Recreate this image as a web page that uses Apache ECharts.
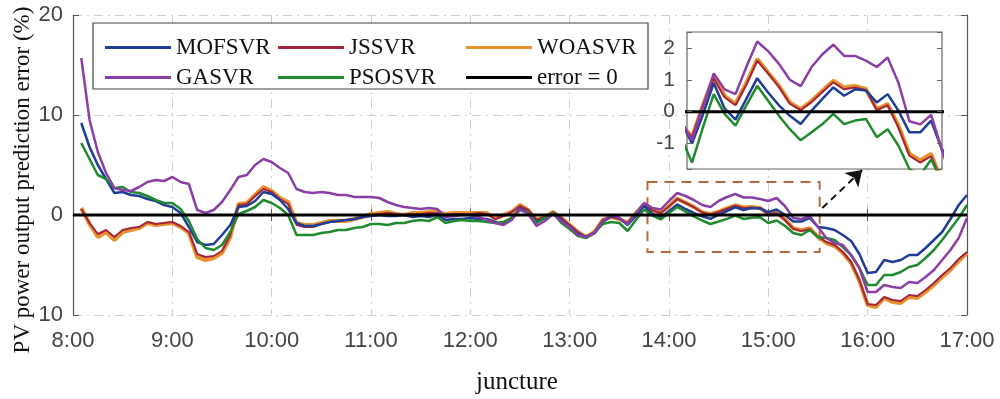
<!DOCTYPE html>
<html>
<head>
<meta charset="utf-8">
<script src="https://cdn.jsdelivr.net/npm/echarts@6/dist/echarts.min.js"></script>
<style>
html, body { margin: 0; padding: 0; background: #fff; }
#chart { width: 1000px; height: 399px; }
</style>
</head>
<body>
<div id="chart"></div>
<script>
// sample times (5 min steps)
const times = [
  "8:05","8:10","8:15","8:20","8:25","8:30","8:35","8:40","8:45","8:50","8:55","9:00",
  "9:05","9:10","9:15","9:20","9:25","9:30","9:35","9:40","9:45","9:50","9:55","10:00",
  "10:05","10:10","10:15","10:20","10:25","10:30","10:35","10:40","10:45","10:50","10:55","11:00",
  "11:05","11:10","11:15","11:20","11:25","11:30","11:35","11:40","11:45","11:50","11:55","12:00",
  "12:05","12:10","12:15","12:20","12:25","12:30","12:35","12:40","12:45","12:50","12:55","13:00",
  "13:05","13:10","13:15","13:20","13:25","13:30","13:35","13:40","13:45","13:50","13:55","14:00",
  "14:05","14:10","14:15","14:20","14:25","14:30","14:35","14:40","14:45","14:50","14:55","15:00",
  "15:05","15:10","15:15","15:20","15:25","15:30","15:35","15:40","15:45","15:50","15:55","16:00",
  "16:05","16:10","16:15","16:20","16:25","16:30","16:35","16:40","16:45","16:50","16:55","17:00"
];
const hourLabels = ["8:00","9:00","10:00","11:00","12:00","13:00","14:00","15:00","16:00","17:00"];
const yLabels = ["10", "0", "10", "20"]; // for -10, 0, 10, 20

const mofsvr = [
  9.2, 6.8, 5.0, 3.6, 2.2, 2.3, 2.0, 1.9, 1.6, 1.4, 1.0, 0.8,
  0.2, -1.2, -2.7, -3.0, -2.9, -2.0, -1.0, 0.8, 0.9, 1.4, 2.3, 2.1,
  1.5, 0.6, -0.8, -1.1, -1.1, -0.9, -0.7, -0.6, -0.5, -0.4, -0.2, -0.1,
  0.0, -0.1, -0.1, 0.0, -0.2, -0.1, -0.2, 0.1, -0.5, -0.4, -0.4, -0.3,
  -0.4, -0.4, -0.7, -0.9, -0.3, 0.7, 0.2, -0.7, -0.3, 0.2, -0.5, -1.2,
  -1.9, -2.2, -1.8, -0.7, -0.1, -0.3, -1.0, -0.1, 0.9, 0.1, -0.25, 0.4,
  1.05, 0.6, 0.2, -0.13, -0.39, 0.03, 0.4, 0.76, 0.5, 0.7, 0.66, 0.29,
  0.55, 0.03, -0.65, -0.65, -0.28, -1.2, -1.3, -1.5, -2.0, -2.6, -3.9, -5.8,
  -5.7, -4.5, -4.7, -4.5, -4.0, -4.0, -3.3, -2.5, -1.7, -0.4, 1.0, 2.0
];
const jssvr = [
  0.6, -0.8, -1.9, -1.5, -2.2, -1.5, -1.3, -1.2, -0.7, -0.9, -0.8, -0.7,
  -1.1, -1.7, -3.9, -4.2, -4.1, -3.6, -2.0, 1.0, 1.1, 1.9, 2.6, 2.3,
  1.6, 1.1, -1.0, -1.2, -1.2, -0.9, -0.7, -0.6, -0.5, -0.4, -0.2, 0.0,
  0.1, 0.2, 0.1, 0.0, 0.1, 0.1, 0.2, 0.2, 0.0, 0.1, 0.1, 0.1,
  0.2, 0.1, -0.4, -0.1, 0.3, 0.9, 0.5, -0.5, -0.2, 0.3, -0.3, -1.0,
  -1.7, -2.2, -1.7, -0.5, -0.2, -0.4, -0.8, 0.2, 1.05, 0.45, 0.2, 0.85,
  1.6, 1.2, 0.78, 0.25, 0.05, 0.3, 0.62, 0.92, 0.7, 0.76, 0.68, 0.05,
  0.2, -0.5, -1.38, -1.6, -1.4, -2.2, -2.7, -3.0, -3.7, -4.7, -6.5, -8.9,
  -9.0, -8.2, -8.5, -8.6, -8.0, -8.1, -7.5, -6.8, -6.0, -5.3, -4.4, -3.7
];
const woasvr = [
  0.7, -0.9, -2.2, -1.7, -2.5, -1.7, -1.5, -1.3, -0.8, -1.0, -0.9, -0.8,
  -1.2, -1.8, -4.2, -4.5, -4.3, -3.8, -2.2, 1.1, 1.2, 2.0, 2.8, 2.4,
  1.7, 1.3, -0.8, -1.0, -1.0, -0.8, -0.6, -0.6, -0.6, -0.4, -0.2, 0.1,
  0.2, 0.3, 0.1, 0.0, 0.2, 0.2, 0.3, 0.3, 0.1, 0.2, 0.2, 0.2,
  0.2, 0.2, -0.4, 0.0, 0.3, 1.0, 0.5, -0.5, -0.2, 0.3, -0.3, -1.0,
  -1.7, -2.2, -1.7, -0.5, -0.2, -0.4, -0.8, 0.2, 1.1, 0.5, 0.24, 0.9,
  1.65, 1.23, 0.81, 0.29, 0.08, 0.34, 0.66, 0.97, 0.76, 0.81, 0.71, 0.08,
  0.24, -0.44, -1.32, -1.53, -1.32, -2.2, -2.8, -3.1, -3.8, -4.8, -6.6, -9.0,
  -9.2, -8.3, -8.7, -8.8, -8.2, -8.3, -7.7, -7.0, -6.2, -5.5, -4.6, -3.8
];
const gasvr = [
  15.7, 9.5, 6.3, 4.2, 2.7, 2.5, 2.4, 2.8, 3.3, 3.5, 3.4, 3.8,
  3.3, 3.1, 0.5, 0.2, 0.5, 1.3, 2.5, 3.8, 4.0, 5.0, 5.6, 5.3,
  4.7, 4.2, 2.6, 2.3, 2.2, 2.3, 2.2, 2.0, 2.0, 1.8, 1.8, 1.8,
  1.7, 1.3, 1.0, 0.8, 0.7, 0.6, 0.7, 0.6, -0.2, -0.1, 0.0, 0.0,
  -0.2, -0.5, -0.8, -1.0, -0.5, 0.6, 0.1, -1.1, -0.6, 0.1, -0.6, -1.2,
  -2.0, -2.2, -1.8, -0.6, 0.0, -0.3, -0.9, 0.15, 1.2, 0.7, 0.55, 1.4,
  2.2, 1.9, 1.5, 1.0, 0.8, 1.4, 1.8, 2.1, 1.75, 1.75, 1.6, 1.4,
  1.7, 0.9, -0.3, -0.4, -0.1, -1.2, -2.3, -2.8, -3.0, -4.0, -5.3, -7.7,
  -7.7, -7.0, -7.2, -7.3, -6.7, -6.8, -6.2, -5.5, -4.5, -3.5, -2.3, -0.3
];
const psosvr = [
  7.2, 5.6, 4.0, 3.6, 2.7, 2.8, 2.3, 2.2, 1.9, 1.5, 1.2, 1.2,
  0.6, -0.6, -2.4, -3.3, -3.5, -3.0, -1.7, 0.1, 0.4, 0.8, 1.5, 1.2,
  0.7, 0.0, -2.0, -2.0, -2.0, -1.8, -1.7, -1.5, -1.5, -1.3, -1.2, -0.9,
  -0.9, -1.0, -0.8, -0.8, -0.6, -0.5, -0.6, -0.2, -0.8, -0.6, -0.5, -0.6,
  -0.6, -0.7, -0.8, -0.7, -0.3, 0.5, 0.2, -0.8, -0.3, 0.2, -0.8, -1.4,
  -2.1, -2.3, -1.8, -0.9, -0.7, -0.8, -1.6, -0.5, 0.55, -0.07, -0.44, 0.2,
  0.81, 0.34, -0.13, -0.55, -0.9, -0.65, -0.39, -0.07, -0.39, -0.28, -0.23, -0.8,
  -0.55, -1.07, -1.8, -2.0, -1.5, -2.2, -2.3, -2.5, -3.2, -4.0, -5.3, -7.0,
  -7.0, -6.0, -6.0, -5.7, -5.2, -5.0, -4.3, -3.5, -2.5, -1.4, -0.3, 1.0
];

const toMin = (s) => {
  const p = s.split(":");
  return +p[0] * 60 + +p[1];
};
const pts = (arr) => times.map((t, i) => [toMin(t), arr[i]]);

const SERIF = "Liberation Serif";
const SANS = "Liberation Sans";

// drawing order: first is at the bottom
const curves = [
  { name: "WOASVR", data: woasvr, color: "#e8922e", width: 4 },
  { name: "JSSVR", data: jssvr, color: "#a3263e", width: 2 },
  { name: "MOFSVR", data: mofsvr, color: "#1f3d99", width: 2.5 },
  { name: "PSOSVR", data: psosvr, color: "#1f8a2e", width: 2.5 },
  { name: "GASVR", data: gasvr, color: "#8b3fa6", width: 2.5 },
];

const lineSeries = (c, xi, yi, z) => ({
  name: c.name,
  type: "line",
  xAxisIndex: xi,
  yAxisIndex: yi,
  data: pts(c.data),
  symbol: "none",
  z: z,
  silent: true,
  itemStyle: { color: c.color },
  lineStyle: { color: c.color, width: c.width },
});

const zeroLine = [[480, 0], [1020, 0]];

const series = [];
curves.forEach((c) => series.push(lineSeries(c, 0, 0, 2)));
series.push({
  name: "error = 0",
  type: "line",
  xAxisIndex: 0,
  yAxisIndex: 0,
  data: zeroLine,
  symbol: "none",
  z: 3,
  silent: true,
  itemStyle: { color: "#000" },
  lineStyle: { color: "#000", width: 3 },
  markArea: {
    silent: true,
    itemStyle: {
      color: "rgba(0,0,0,0)",
      borderColor: "#b8693c",
      borderWidth: 2,
      borderType: [10, 7],
    },
    data: [[{ coord: [827, 3.3] }, { coord: [931, -3.7] }]],
  },
  markLine: {
    silent: true,
    symbol: ["none", "arrow"],
    symbolSize: 15,
    label: { show: false },
    lineStyle: { color: "#111", width: 2, type: [7, 5] },
    data: [[{ coord: [932.6, 0.7] }, { coord: [956.7, 4.5] }]],
  },
});
curves.forEach((c) => series.push(lineSeries(c, 2, 2, 4)));
series.push({
  name: "error = 0",
  type: "line",
  xAxisIndex: 2,
  yAxisIndex: 2,
  data: zeroLine,
  symbol: "none",
  z: 5,
  silent: true,
  itemStyle: { color: "#000" },
  lineStyle: { color: "#000", width: 3 },
});

const frame = { lineStyle: { color: "#555", width: 1.2 } };
const dashGrid = { show: true, lineStyle: { color: "#cfcfcf", width: 1, type: [9, 5, 2, 5] } };
const legendBase = {
  orient: "vertical",
  top: 31,
  icon: "rect",
  itemWidth: 66,
  itemHeight: 3,
  itemGap: 7,
  selectedMode: false,
  textStyle: { fontFamily: SERIF, fontSize: 23, color: "#111", lineHeight: 23 },
};

const chart = echarts.init(document.getElementById("chart"));
chart.setOption({
  animation: false,
  backgroundColor: "#fff",
  grid: [
    { left: 73, right: 33, top: 15, bottom: 84 },
    { left: 687, top: 32, width: 255, height: 137 },
  ],
  xAxis: [
    {
      gridIndex: 0, type: "value", min: 480, max: 1020, interval: 60,
      axisLine: frame,
      axisTick: { inside: true, length: 6, lineStyle: { color: "#555" } },
      axisLabel: {
        fontFamily: SANS, fontSize: 22, color: "#444", margin: 15,
        formatter: (v) => hourLabels[Math.round((v - 480) / 60)],
      },
      splitLine: dashGrid,
    },
    {
      gridIndex: 0, type: "value", position: "top", min: 480, max: 1020, interval: 60,
      axisLine: frame,
      axisTick: { inside: true, length: 6, lineStyle: { color: "#555" } },
      axisLabel: { show: false },
      splitLine: { show: false },
    },
    { gridIndex: 1, type: "value", min: 812.7, max: 930, show: false },
  ],
  yAxis: [
    {
      gridIndex: 0, type: "value", min: -10, max: 20, interval: 10,
      axisLine: { show: true, lineStyle: frame.lineStyle },
      axisTick: { show: true, inside: true, length: 6, lineStyle: { color: "#555" } },
      axisLabel: {
        fontFamily: SANS, fontSize: 22, color: "#444", margin: 10,
        formatter: (v) => yLabels[Math.round((v + 10) / 10)],
      },
      splitLine: dashGrid,
    },
    {
      gridIndex: 0, type: "value", position: "right", min: -10, max: 20, interval: 10,
      axisLine: { show: true, lineStyle: frame.lineStyle },
      axisTick: { show: true, inside: true, length: 6, lineStyle: { color: "#555" } },
      axisLabel: { show: false },
      splitLine: { show: false },
    },
    {
      gridIndex: 1, type: "value", min: -1.8, max: 2.5, splitNumber: 4, z: 6,
      axisLine: { show: false },
      axisTick: { show: true, inside: true, length: 5, lineStyle: { color: "#666" } },
      axisLabel: {
        fontFamily: SANS, fontSize: 21, color: "#444", margin: 12,
        formatter: (v) => (Math.abs(v - Math.round(v)) < 1e-6 ? String(Math.round(v)) : ""),
      },
      splitLine: { show: false },
    },
    {
      gridIndex: 1, type: "value", position: "right", min: -1.8, max: 2.5, splitNumber: 4, z: 6,
      axisLine: { show: false },
      axisTick: { show: true, inside: true, length: 5, lineStyle: { color: "#666" } },
      axisLabel: { show: false },
      splitLine: { show: false },
    },
  ],
  legend: [
    Object.assign({}, legendBase, { left: 100, data: ["MOFSVR", "GASVR"] }),
    Object.assign({}, legendBase, { left: 273, data: ["JSSVR", "PSOSVR"] }),
    Object.assign({}, legendBase, { left: 461, data: ["WOASVR", "error = 0"] }),
  ],
  graphic: [
    {
      type: "rect", z: 1, silent: true,
      shape: { x: 93, y: 23, width: 555, height: 66 },
      style: { fill: "#fff", stroke: "#444", lineWidth: 1.2 },
    },
    {
      type: "rect", z: 3, silent: true,
      shape: { x: 687, y: 32, width: 255, height: 137 },
      style: { fill: "#fff", stroke: "#666", lineWidth: 1.2 },
    },
    {
      type: "text", x: 23, y: 180, rotation: Math.PI / 2, silent: true,
      style: {
        text: "PV power output prediction error (%)",
        font: '23px "Liberation Serif"', fill: "#111",
        textAlign: "center", textVerticalAlign: "middle",
      },
    },
    {
      type: "text", x: 517, y: 382, silent: true,
      style: {
        text: "juncture",
        font: '25px "Liberation Serif"', fill: "#111",
        textAlign: "center", textVerticalAlign: "middle",
      },
    },
  ],
  series: series,
});
</script>
</body>
</html>
